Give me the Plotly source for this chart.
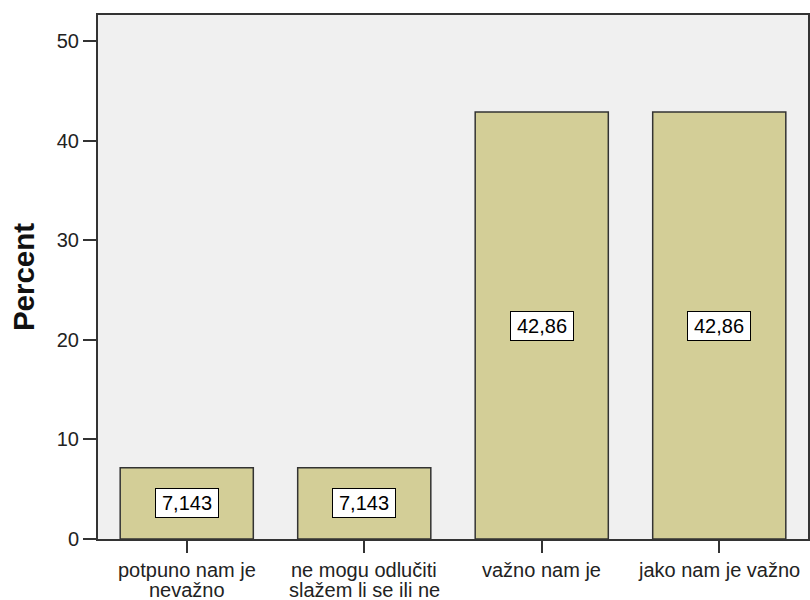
import plotly.graph_objects as go

categories = ["potpuno nam je<br>nevažno", "ne mogu odlučiti<br>slažem li se ili ne",
              "važno nam je", "jako nam je važno"]
percent = [7.143, 7.143, 42.86, 42.86]
y_ticks = [0, 10, 20, 30, 40, 50]

def fmt(v):
    s = f"{v:.4g}"
    return s.replace(".", ",")

FONT = "Liberation Sans, Arial, sans-serif"
DARK = "#333333"
TXT = "#222222"

fig = go.Figure()
fig.add_trace(go.Bar(
    x=categories, y=percent,
    marker=dict(color="#D3CE97", line=dict(color=DARK, width=1.5)),
    hoverinfo="x+y",
))

# value labels in the middle of each bar
for c, v in zip(categories, percent):
    fig.add_annotation(
        x=c, y=v / 2, xref="x", yref="y", text=fmt(v), showarrow=False,
        font=dict(family=FONT, size=20, color="black"),
        bgcolor="white", bordercolor="black", borderwidth=1, borderpad=3,
        width=56,
    )

# category labels (tight line spacing, one text per line)
for c in categories:
    for i, line in enumerate(c.split("<br>")):
        fig.add_annotation(
            x=c, y=0, xref="x", yref="paper", text=line, showarrow=False,
            xanchor="center", yanchor="middle", yshift=-31 - 20 * i,
            font=dict(family=FONT, size=20, color=TXT),
        )

fig.update_layout(
    width=810, height=600,
    margin=dict(l=98, r=2, t=15, b=61),
    paper_bgcolor="white", plot_bgcolor="#F0F0F0",
    bargap=0.25, showlegend=False,
    font=dict(family=FONT, size=20, color=TXT),
)
fig.update_xaxes(
    showline=True, linecolor=DARK, linewidth=2, mirror=True,
    ticks="outside", ticklen=12, tickwidth=2, tickcolor=DARK,
    showticklabels=False, automargin=False,
    showgrid=False, range=[-0.5, 3.5],
)
fig.update_yaxes(
    range=[0, 52.6], tickvals=y_ticks, ticktext=[str(t) for t in y_ticks],
    showline=True, linecolor=DARK, linewidth=2, mirror=True,
    ticks="outside", ticklen=13, tickwidth=2, tickcolor=DARK,
    tickfont=dict(family=FONT, size=20, color=TXT),
    showgrid=False, zeroline=False, automargin=False,
    title=dict(text="<b>Percent</b>", font=dict(family=FONT, size=29.5, color="#111111"), standoff=13),
)

fig.write_html(
    "out.html",
    config={"displayModeBar": False},
    post_script="document.body.style.margin='0';document.body.style.overflow='hidden';",
)
